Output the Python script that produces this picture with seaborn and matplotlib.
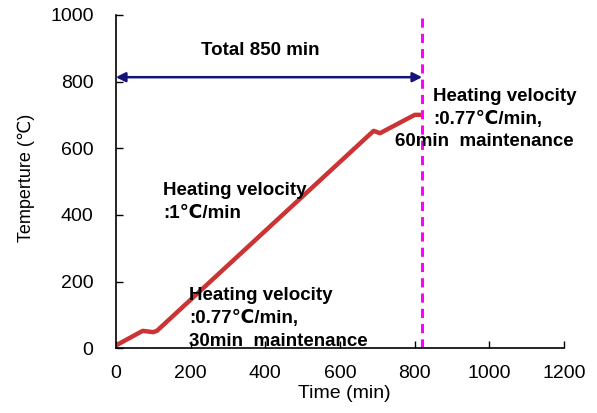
import matplotlib
matplotlib.use("Agg")
import matplotlib.pyplot as plt
import seaborn as sns
import pandas as pd

time_min = [0, 72, 100, 110, 690, 707, 800, 815]
temperature = [8, 52, 48, 52, 652, 645, 700, 700]
x_ticks = [0, 200, 400, 600, 800, 1000, 1200]
y_ticks = [0, 200, 400, 600, 800, 1000]
total_end = 820

sns.set_theme(style="ticks")
plt.rcParams['font.family'] = ['Liberation Sans', 'DejaVu Sans']
plt.rcParams['text.color'] = 'black'

df = pd.DataFrame({"Time (min)": time_min, "Temperture (℃)": temperature})

fig = plt.figure(figsize=(5.97, 4.13), dpi=100)
ax = fig.add_axes([0.194, 0.157, 0.751, 0.807])
sns.lineplot(data=df, x="Time (min)", y="Temperture (℃)", ax=ax,
             color="#cc3333", lw=3.2, solid_capstyle="round")

ax.axvline(total_end, color="#ff00ff", lw=2.2, ls=(0, (3, 2)), ymin=0, ymax=1)
ax.annotate("", xy=(0, 813), xytext=(total_end, 813),
            arrowprops=dict(arrowstyle="<|-|>", color="#14147a", lw=1.8,
                            mutation_scale=14, shrinkA=0, shrinkB=0))

fs = 13.5
kw = dict(fontsize=fs, fontweight="bold", va="center", color="black")
ax.text(386, 892, "Total 850 min", ha="center", **kw)
ax.text(126, 474, "Heating velocity", ha="left", **kw)
ax.text(126, 405, ":1℃/min", ha="left", **kw)
ax.text(196, 159, "Heating velocity", ha="left", **kw)
ax.text(196, 90, ":0.77℃/min,", ha="left", **kw)
ax.text(196, 21, "30min  maintenance", ha="left", **kw)
ax.text(849, 754, "Heating velocity", ha="left", clip_on=False, **kw)
ax.text(849, 685, ":0.77℃/min,", ha="left", clip_on=False, **kw)
ax.text(747, 619, "60min  maintenance", ha="left", clip_on=False, **kw)

ax.set_xlim(0, 1200)
ax.set_ylim(0, 1000)
ax.set_xticks(x_ticks)
ax.set_yticks(y_ticks)
ax.tick_params(direction="in", length=5, width=1, labelsize=14, colors="black")
ax.tick_params(axis="x", pad=12)
ax.tick_params(axis="y", pad=16)
for s in ["left", "bottom"]:
    ax.spines[s].set_color("black")
    ax.spines[s].set_linewidth(1.2)
sns.despine(ax=ax)
ax.set_xlabel("Time (min)", fontsize=14, color="black")
ax.set_ylabel("Temperture (℃)", fontsize=13, color="black")
ax.xaxis.set_label_coords(0.51, -0.11)
ax.yaxis.set_label_coords(-0.181, 0.51)

fig.savefig("out.png", dpi=100)
